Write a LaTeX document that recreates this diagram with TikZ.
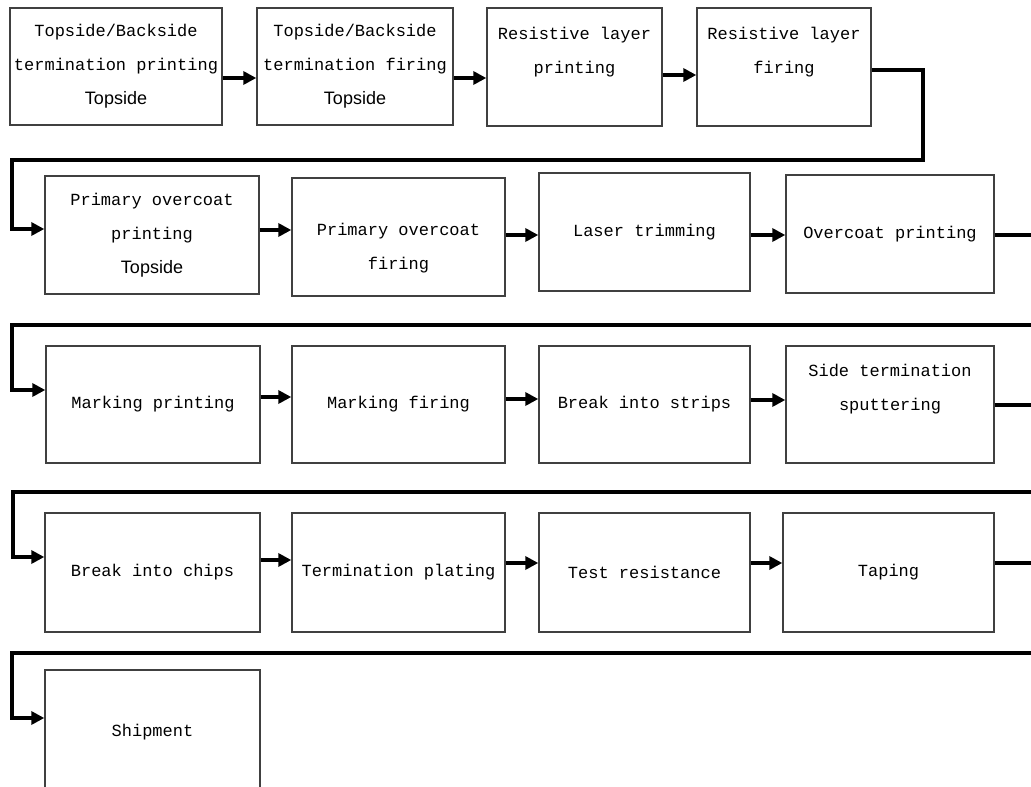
\documentclass[tikz,border=0pt]{standalone}
\usepackage{fontspec}
\setmonofont{Liberation Mono}
\setsansfont{Liberation Sans}
\usetikzlibrary{arrows.meta}

\tikzset{
	stepbox/.style={shape=rectangle, draw=black!75, line width=1.4pt, inner sep=0pt,
		align=center, text=black, font=\ttfamily\fontsize{17}{34}\selectfont},
	flow/.style={draw=black, line width=3.5pt, -{Triangle[length=13pt, width=13pt]}},
}
\newcommand{\topsd}{{\sffamily\fontsize{18}{34}\selectfont Topside}}

\begin{document}
\begin{tikzpicture}[x=1pt, y=-1pt]
		\useasboundingbox (0,0) rectangle (1031,787);

		% Riga 1
		\node[stepbox, minimum width=212, minimum height=117] (b1) at (116, 66.5){Topside/Backside\\termination printing\\\topsd};
		\node[stepbox, minimum width=196, minimum height=117] (b2) at (355, 66.5){Topside/Backside\\termination firing\\\topsd};
		\node[stepbox, minimum width=175, minimum height=118] (b3) at (574.5, 67){Resistive layer\\printing\\~};
		\node[stepbox, minimum width=174, minimum height=118] (b4) at (784, 67){Resistive layer\\firing\\~};

		% Riga 2
		\node[stepbox, minimum width=214, minimum height=118] (b5) at (152, 235){Primary overcoat\\printing\\\topsd};
		\node[stepbox, minimum width=213, minimum height=118] (b6) at (398.5, 237){~\\Primary overcoat\\firing};
		\node[stepbox, minimum width=211, minimum height=118] (b7) at (644.5, 232){Laser trimming};
		\node[stepbox, minimum width=208, minimum height=118] (b8) at (890, 234){Overcoat printing};

		% Riga 3
		\node[stepbox, minimum width=214, minimum height=117] (b9) at (153, 404.5){Marking printing};
		\node[stepbox, minimum width=213, minimum height=117] (b10) at (398.5, 404.5){Marking firing};
		\node[stepbox, minimum width=211, minimum height=117] (b11) at (644.5, 404.5){Break into strips};
		\node[stepbox, minimum width=208, minimum height=117] (b12) at (890, 404.5){Side termination\\sputtering\\~};

		% Riga 4
		\node[stepbox, minimum width=215, minimum height=119] (b13) at (152.5, 572.5){Break into chips};
		\node[stepbox, minimum width=213, minimum height=119] (b14) at (398.5, 572.5){Termination plating};
		\node[stepbox, minimum width=211, minimum height=119] (b15) at (644.5, 572.5){Test resistance};
		\node[stepbox, minimum width=211, minimum height=119] (b16) at (888.5, 572.5){Taping};

		% Riga 5
		\node[stepbox, minimum width=215, minimum height=124] (b17) at (152.5, 732){Shipment};

		\draw[flow] (b1.east |- 0,78) -- (b2.west |- 0,78);
		\draw[flow] (b2.east |- 0,78) -- (b3.west |- 0,78);
		\draw[flow] (b3.east |- 0,75) -- (b4.west |- 0,75);
		\draw[flow] (b4.east |- 0,70) -| (923,160) -- (12,160) |- (b5.west |- 0,229);

		\draw[flow] (b5.east |- 0,230) -- (b6.west |- 0,230);
		\draw[flow] (b6.east |- 0,235) -- (b7.west |- 0,235);
		\draw[flow] (b7.east |- 0,235) -- (b8.west |- 0,235);
		\draw[flow] (b8.east |- 0,235) -| (1045,325) -- (12,325) |- (b9.west |- 0,390);

		\draw[flow] (b9.east |- 0,397) -- (b10.west |- 0,397);
		\draw[flow] (b10.east |- 0,399) -- (b11.west |- 0,399);
		\draw[flow] (b11.east |- 0,400) -- (b12.west |- 0,400);
		\draw[flow] (b12.east |- 0,405) -| (1045,492) -- (13,492) |- (b13.west |- 0,557);

		\draw[flow] (b13.east |- 0,560) -- (b14.west |- 0,560);
		\draw[flow] (b14.east |- 0,563) -- (b15.west |- 0,563);
		\draw[flow] (b15.east |- 0,563) -- (b16.west |- 0,563);
		\draw[flow] (b16.east |- 0,563) -| (1045,653) -- (12,653) |- (b17.west |- 0,718);
	\end{tikzpicture}
\end{document}
